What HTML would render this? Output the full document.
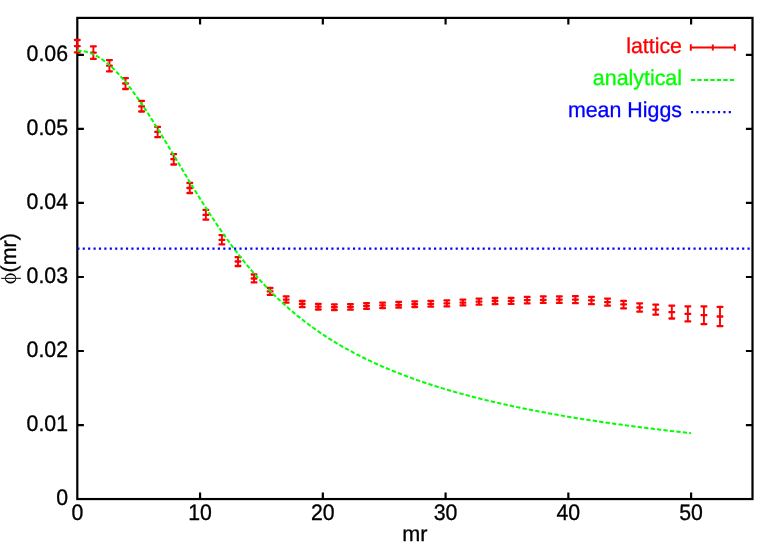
<!DOCTYPE html>
<html><head><meta charset="utf-8"><title>plot</title>
<style>
html,body{margin:0;padding:0;background:#fff;}
body{width:778px;height:545px;overflow:hidden;}
svg{display:block;will-change:transform;}
text{text-rendering:geometricPrecision;font-family:"Liberation Sans",sans-serif;font-size:21.60px;stroke-width:0.30px;}
</style></head><body>
<svg width="778" height="545" viewBox="0 0 778 545">
<rect width="778" height="545" fill="#fff"/>
<path d="M77.30 425.03 h6.6 M752.50 425.03 h-6.6 M77.30 351.00 h6.6 M752.50 351.00 h-6.6 M77.30 276.98 h6.6 M752.50 276.98 h-6.6 M77.30 202.96 h6.6 M752.50 202.96 h-6.6 M77.30 128.93 h6.6 M752.50 128.93 h-6.6 M77.30 54.91 h6.6 M752.50 54.91 h-6.6 M200.06 499.05 v-6.6 M200.06 17.90 v6.6 M322.83 499.05 v-6.6 M322.83 17.90 v6.6 M445.59 499.05 v-6.6 M445.59 17.90 v6.6 M568.35 499.05 v-6.6 M568.35 17.90 v6.6 M691.12 499.05 v-6.6 M691.12 17.90 v6.6" fill="none" stroke="#000" stroke-width="2.20"/>
<rect x="77.30" y="17.90" width="675.20" height="481.15" fill="none" stroke="#000" stroke-width="2.20"/>
<path d="M77.30 40.00 V52.30 M93.37 46.40 V58.90 M109.44 60.10 V71.30 M125.50 78.10 V89.00 M141.57 100.90 V111.50 M157.64 126.80 V137.10 M173.71 154.20 V164.50 M189.77 182.80 V193.00 M205.84 209.90 V219.70 M221.91 235.10 V244.30 M237.98 257.10 V266.00 M254.04 274.50 V282.40 M270.11 288.00 V294.80 M286.18 296.40 V302.60 M302.25 301.00 V307.10 M318.31 303.80 V309.50 M334.38 304.30 V310.00 M350.45 304.10 V309.60 M366.52 303.10 V308.80 M382.58 302.70 V308.20 M398.65 301.90 V307.50 M414.72 301.30 V307.00 M430.79 300.80 V306.60 M446.85 300.30 V306.30 M462.92 299.60 V305.40 M478.99 298.60 V304.60 M495.06 298.00 V304.10 M511.12 297.80 V303.80 M527.19 296.90 V303.30 M543.26 296.40 V302.90 M559.33 296.30 V302.90 M575.39 296.10 V303.10 M591.46 296.80 V304.10 M607.53 298.60 V305.60 M623.60 300.80 V308.30 M639.66 303.30 V311.60 M655.73 304.60 V314.60 M671.80 305.60 V318.50 M687.87 306.40 V321.40 M703.93 306.40 V324.10 M720.00 306.80 V326.10 M690.8 44.2 v6.6 M734.8 44.2 v6.6 M712.8 44.6 v5.8 M690.8 47.5 H734.8" fill="none" stroke="#ff0000" stroke-width="1.90" stroke-linecap="butt"/>
<path d="M74.65 38.85 h5.30 a0.80 0.80 0 0 1 0.80 0.80 v0.70 a0.80 0.80 0 0 1 -0.80 0.80 h-5.30 a0.80 0.80 0 0 1 -0.80 -0.80 v-0.70 a0.80 0.80 0 0 1 0.80 -0.80 Z M74.65 51.15 h5.30 a0.80 0.80 0 0 1 0.80 0.80 v0.70 a0.80 0.80 0 0 1 -0.80 0.80 h-5.30 a0.80 0.80 0 0 1 -0.80 -0.80 v-0.70 a0.80 0.80 0 0 1 0.80 -0.80 Z M74.65 45.05 h5.30 a0.80 0.80 0 0 1 0.80 0.80 v0.70 a0.80 0.80 0 0 1 -0.80 0.80 h-5.30 a0.80 0.80 0 0 1 -0.80 -0.80 v-0.70 a0.80 0.80 0 0 1 0.80 -0.80 Z M90.72 45.25 h5.30 a0.80 0.80 0 0 1 0.80 0.80 v0.70 a0.80 0.80 0 0 1 -0.80 0.80 h-5.30 a0.80 0.80 0 0 1 -0.80 -0.80 v-0.70 a0.80 0.80 0 0 1 0.80 -0.80 Z M90.72 57.75 h5.30 a0.80 0.80 0 0 1 0.80 0.80 v0.70 a0.80 0.80 0 0 1 -0.80 0.80 h-5.30 a0.80 0.80 0 0 1 -0.80 -0.80 v-0.70 a0.80 0.80 0 0 1 0.80 -0.80 Z M90.72 51.45 h5.30 a0.80 0.80 0 0 1 0.80 0.80 v0.70 a0.80 0.80 0 0 1 -0.80 0.80 h-5.30 a0.80 0.80 0 0 1 -0.80 -0.80 v-0.70 a0.80 0.80 0 0 1 0.80 -0.80 Z M106.78 58.95 h5.30 a0.80 0.80 0 0 1 0.80 0.80 v0.70 a0.80 0.80 0 0 1 -0.80 0.80 h-5.30 a0.80 0.80 0 0 1 -0.80 -0.80 v-0.70 a0.80 0.80 0 0 1 0.80 -0.80 Z M106.78 70.15 h5.30 a0.80 0.80 0 0 1 0.80 0.80 v0.70 a0.80 0.80 0 0 1 -0.80 0.80 h-5.30 a0.80 0.80 0 0 1 -0.80 -0.80 v-0.70 a0.80 0.80 0 0 1 0.80 -0.80 Z M106.78 64.45 h5.30 a0.80 0.80 0 0 1 0.80 0.80 v0.70 a0.80 0.80 0 0 1 -0.80 0.80 h-5.30 a0.80 0.80 0 0 1 -0.80 -0.80 v-0.70 a0.80 0.80 0 0 1 0.80 -0.80 Z M122.85 76.95 h5.30 a0.80 0.80 0 0 1 0.80 0.80 v0.70 a0.80 0.80 0 0 1 -0.80 0.80 h-5.30 a0.80 0.80 0 0 1 -0.80 -0.80 v-0.70 a0.80 0.80 0 0 1 0.80 -0.80 Z M122.85 87.85 h5.30 a0.80 0.80 0 0 1 0.80 0.80 v0.70 a0.80 0.80 0 0 1 -0.80 0.80 h-5.30 a0.80 0.80 0 0 1 -0.80 -0.80 v-0.70 a0.80 0.80 0 0 1 0.80 -0.80 Z M122.85 82.35 h5.30 a0.80 0.80 0 0 1 0.80 0.80 v0.70 a0.80 0.80 0 0 1 -0.80 0.80 h-5.30 a0.80 0.80 0 0 1 -0.80 -0.80 v-0.70 a0.80 0.80 0 0 1 0.80 -0.80 Z M138.92 99.75 h5.30 a0.80 0.80 0 0 1 0.80 0.80 v0.70 a0.80 0.80 0 0 1 -0.80 0.80 h-5.30 a0.80 0.80 0 0 1 -0.80 -0.80 v-0.70 a0.80 0.80 0 0 1 0.80 -0.80 Z M138.92 110.35 h5.30 a0.80 0.80 0 0 1 0.80 0.80 v0.70 a0.80 0.80 0 0 1 -0.80 0.80 h-5.30 a0.80 0.80 0 0 1 -0.80 -0.80 v-0.70 a0.80 0.80 0 0 1 0.80 -0.80 Z M138.92 105.15 h5.30 a0.80 0.80 0 0 1 0.80 0.80 v0.70 a0.80 0.80 0 0 1 -0.80 0.80 h-5.30 a0.80 0.80 0 0 1 -0.80 -0.80 v-0.70 a0.80 0.80 0 0 1 0.80 -0.80 Z M154.99 125.65 h5.30 a0.80 0.80 0 0 1 0.80 0.80 v0.70 a0.80 0.80 0 0 1 -0.80 0.80 h-5.30 a0.80 0.80 0 0 1 -0.80 -0.80 v-0.70 a0.80 0.80 0 0 1 0.80 -0.80 Z M154.99 135.95 h5.30 a0.80 0.80 0 0 1 0.80 0.80 v0.70 a0.80 0.80 0 0 1 -0.80 0.80 h-5.30 a0.80 0.80 0 0 1 -0.80 -0.80 v-0.70 a0.80 0.80 0 0 1 0.80 -0.80 Z M154.99 130.65 h5.30 a0.80 0.80 0 0 1 0.80 0.80 v0.70 a0.80 0.80 0 0 1 -0.80 0.80 h-5.30 a0.80 0.80 0 0 1 -0.80 -0.80 v-0.70 a0.80 0.80 0 0 1 0.80 -0.80 Z M171.06 153.05 h5.30 a0.80 0.80 0 0 1 0.80 0.80 v0.70 a0.80 0.80 0 0 1 -0.80 0.80 h-5.30 a0.80 0.80 0 0 1 -0.80 -0.80 v-0.70 a0.80 0.80 0 0 1 0.80 -0.80 Z M171.06 163.35 h5.30 a0.80 0.80 0 0 1 0.80 0.80 v0.70 a0.80 0.80 0 0 1 -0.80 0.80 h-5.30 a0.80 0.80 0 0 1 -0.80 -0.80 v-0.70 a0.80 0.80 0 0 1 0.80 -0.80 Z M171.06 158.05 h5.30 a0.80 0.80 0 0 1 0.80 0.80 v0.70 a0.80 0.80 0 0 1 -0.80 0.80 h-5.30 a0.80 0.80 0 0 1 -0.80 -0.80 v-0.70 a0.80 0.80 0 0 1 0.80 -0.80 Z M187.12 181.65 h5.30 a0.80 0.80 0 0 1 0.80 0.80 v0.70 a0.80 0.80 0 0 1 -0.80 0.80 h-5.30 a0.80 0.80 0 0 1 -0.80 -0.80 v-0.70 a0.80 0.80 0 0 1 0.80 -0.80 Z M187.12 191.85 h5.30 a0.80 0.80 0 0 1 0.80 0.80 v0.70 a0.80 0.80 0 0 1 -0.80 0.80 h-5.30 a0.80 0.80 0 0 1 -0.80 -0.80 v-0.70 a0.80 0.80 0 0 1 0.80 -0.80 Z M187.12 186.85 h5.30 a0.80 0.80 0 0 1 0.80 0.80 v0.70 a0.80 0.80 0 0 1 -0.80 0.80 h-5.30 a0.80 0.80 0 0 1 -0.80 -0.80 v-0.70 a0.80 0.80 0 0 1 0.80 -0.80 Z M203.19 208.75 h5.30 a0.80 0.80 0 0 1 0.80 0.80 v0.70 a0.80 0.80 0 0 1 -0.80 0.80 h-5.30 a0.80 0.80 0 0 1 -0.80 -0.80 v-0.70 a0.80 0.80 0 0 1 0.80 -0.80 Z M203.19 218.55 h5.30 a0.80 0.80 0 0 1 0.80 0.80 v0.70 a0.80 0.80 0 0 1 -0.80 0.80 h-5.30 a0.80 0.80 0 0 1 -0.80 -0.80 v-0.70 a0.80 0.80 0 0 1 0.80 -0.80 Z M203.19 213.65 h5.30 a0.80 0.80 0 0 1 0.80 0.80 v0.70 a0.80 0.80 0 0 1 -0.80 0.80 h-5.30 a0.80 0.80 0 0 1 -0.80 -0.80 v-0.70 a0.80 0.80 0 0 1 0.80 -0.80 Z M219.26 233.95 h5.30 a0.80 0.80 0 0 1 0.80 0.80 v0.70 a0.80 0.80 0 0 1 -0.80 0.80 h-5.30 a0.80 0.80 0 0 1 -0.80 -0.80 v-0.70 a0.80 0.80 0 0 1 0.80 -0.80 Z M219.26 243.15 h5.30 a0.80 0.80 0 0 1 0.80 0.80 v0.70 a0.80 0.80 0 0 1 -0.80 0.80 h-5.30 a0.80 0.80 0 0 1 -0.80 -0.80 v-0.70 a0.80 0.80 0 0 1 0.80 -0.80 Z M219.26 238.65 h5.30 a0.80 0.80 0 0 1 0.80 0.80 v0.70 a0.80 0.80 0 0 1 -0.80 0.80 h-5.30 a0.80 0.80 0 0 1 -0.80 -0.80 v-0.70 a0.80 0.80 0 0 1 0.80 -0.80 Z M235.33 255.95 h5.30 a0.80 0.80 0 0 1 0.80 0.80 v0.70 a0.80 0.80 0 0 1 -0.80 0.80 h-5.30 a0.80 0.80 0 0 1 -0.80 -0.80 v-0.70 a0.80 0.80 0 0 1 0.80 -0.80 Z M235.33 264.85 h5.30 a0.80 0.80 0 0 1 0.80 0.80 v0.70 a0.80 0.80 0 0 1 -0.80 0.80 h-5.30 a0.80 0.80 0 0 1 -0.80 -0.80 v-0.70 a0.80 0.80 0 0 1 0.80 -0.80 Z M235.33 260.35 h5.30 a0.80 0.80 0 0 1 0.80 0.80 v0.70 a0.80 0.80 0 0 1 -0.80 0.80 h-5.30 a0.80 0.80 0 0 1 -0.80 -0.80 v-0.70 a0.80 0.80 0 0 1 0.80 -0.80 Z M251.39 273.35 h5.30 a0.80 0.80 0 0 1 0.80 0.80 v0.70 a0.80 0.80 0 0 1 -0.80 0.80 h-5.30 a0.80 0.80 0 0 1 -0.80 -0.80 v-0.70 a0.80 0.80 0 0 1 0.80 -0.80 Z M251.39 281.25 h5.30 a0.80 0.80 0 0 1 0.80 0.80 v0.70 a0.80 0.80 0 0 1 -0.80 0.80 h-5.30 a0.80 0.80 0 0 1 -0.80 -0.80 v-0.70 a0.80 0.80 0 0 1 0.80 -0.80 Z M251.39 277.35 h5.30 a0.80 0.80 0 0 1 0.80 0.80 v0.70 a0.80 0.80 0 0 1 -0.80 0.80 h-5.30 a0.80 0.80 0 0 1 -0.80 -0.80 v-0.70 a0.80 0.80 0 0 1 0.80 -0.80 Z M267.46 286.85 h5.30 a0.80 0.80 0 0 1 0.80 0.80 v0.70 a0.80 0.80 0 0 1 -0.80 0.80 h-5.30 a0.80 0.80 0 0 1 -0.80 -0.80 v-0.70 a0.80 0.80 0 0 1 0.80 -0.80 Z M267.46 293.65 h5.30 a0.80 0.80 0 0 1 0.80 0.80 v0.70 a0.80 0.80 0 0 1 -0.80 0.80 h-5.30 a0.80 0.80 0 0 1 -0.80 -0.80 v-0.70 a0.80 0.80 0 0 1 0.80 -0.80 Z M267.46 290.25 h5.30 a0.80 0.80 0 0 1 0.80 0.80 v0.70 a0.80 0.80 0 0 1 -0.80 0.80 h-5.30 a0.80 0.80 0 0 1 -0.80 -0.80 v-0.70 a0.80 0.80 0 0 1 0.80 -0.80 Z M283.53 295.25 h5.30 a0.80 0.80 0 0 1 0.80 0.80 v0.70 a0.80 0.80 0 0 1 -0.80 0.80 h-5.30 a0.80 0.80 0 0 1 -0.80 -0.80 v-0.70 a0.80 0.80 0 0 1 0.80 -0.80 Z M283.53 301.45 h5.30 a0.80 0.80 0 0 1 0.80 0.80 v0.70 a0.80 0.80 0 0 1 -0.80 0.80 h-5.30 a0.80 0.80 0 0 1 -0.80 -0.80 v-0.70 a0.80 0.80 0 0 1 0.80 -0.80 Z M283.53 298.45 h5.30 a0.80 0.80 0 0 1 0.80 0.80 v0.70 a0.80 0.80 0 0 1 -0.80 0.80 h-5.30 a0.80 0.80 0 0 1 -0.80 -0.80 v-0.70 a0.80 0.80 0 0 1 0.80 -0.80 Z M299.60 299.85 h5.30 a0.80 0.80 0 0 1 0.80 0.80 v0.70 a0.80 0.80 0 0 1 -0.80 0.80 h-5.30 a0.80 0.80 0 0 1 -0.80 -0.80 v-0.70 a0.80 0.80 0 0 1 0.80 -0.80 Z M299.60 305.95 h5.30 a0.80 0.80 0 0 1 0.80 0.80 v0.70 a0.80 0.80 0 0 1 -0.80 0.80 h-5.30 a0.80 0.80 0 0 1 -0.80 -0.80 v-0.70 a0.80 0.80 0 0 1 0.80 -0.80 Z M299.60 302.85 h5.30 a0.80 0.80 0 0 1 0.80 0.80 v0.70 a0.80 0.80 0 0 1 -0.80 0.80 h-5.30 a0.80 0.80 0 0 1 -0.80 -0.80 v-0.70 a0.80 0.80 0 0 1 0.80 -0.80 Z M315.66 302.65 h5.30 a0.80 0.80 0 0 1 0.80 0.80 v0.70 a0.80 0.80 0 0 1 -0.80 0.80 h-5.30 a0.80 0.80 0 0 1 -0.80 -0.80 v-0.70 a0.80 0.80 0 0 1 0.80 -0.80 Z M315.66 308.35 h5.30 a0.80 0.80 0 0 1 0.80 0.80 v0.70 a0.80 0.80 0 0 1 -0.80 0.80 h-5.30 a0.80 0.80 0 0 1 -0.80 -0.80 v-0.70 a0.80 0.80 0 0 1 0.80 -0.80 Z M315.66 305.45 h5.30 a0.80 0.80 0 0 1 0.80 0.80 v0.70 a0.80 0.80 0 0 1 -0.80 0.80 h-5.30 a0.80 0.80 0 0 1 -0.80 -0.80 v-0.70 a0.80 0.80 0 0 1 0.80 -0.80 Z M331.73 303.15 h5.30 a0.80 0.80 0 0 1 0.80 0.80 v0.70 a0.80 0.80 0 0 1 -0.80 0.80 h-5.30 a0.80 0.80 0 0 1 -0.80 -0.80 v-0.70 a0.80 0.80 0 0 1 0.80 -0.80 Z M331.73 308.85 h5.30 a0.80 0.80 0 0 1 0.80 0.80 v0.70 a0.80 0.80 0 0 1 -0.80 0.80 h-5.30 a0.80 0.80 0 0 1 -0.80 -0.80 v-0.70 a0.80 0.80 0 0 1 0.80 -0.80 Z M331.73 305.95 h5.30 a0.80 0.80 0 0 1 0.80 0.80 v0.70 a0.80 0.80 0 0 1 -0.80 0.80 h-5.30 a0.80 0.80 0 0 1 -0.80 -0.80 v-0.70 a0.80 0.80 0 0 1 0.80 -0.80 Z M347.80 302.95 h5.30 a0.80 0.80 0 0 1 0.80 0.80 v0.70 a0.80 0.80 0 0 1 -0.80 0.80 h-5.30 a0.80 0.80 0 0 1 -0.80 -0.80 v-0.70 a0.80 0.80 0 0 1 0.80 -0.80 Z M347.80 308.45 h5.30 a0.80 0.80 0 0 1 0.80 0.80 v0.70 a0.80 0.80 0 0 1 -0.80 0.80 h-5.30 a0.80 0.80 0 0 1 -0.80 -0.80 v-0.70 a0.80 0.80 0 0 1 0.80 -0.80 Z M347.80 305.65 h5.30 a0.80 0.80 0 0 1 0.80 0.80 v0.70 a0.80 0.80 0 0 1 -0.80 0.80 h-5.30 a0.80 0.80 0 0 1 -0.80 -0.80 v-0.70 a0.80 0.80 0 0 1 0.80 -0.80 Z M363.87 301.95 h5.30 a0.80 0.80 0 0 1 0.80 0.80 v0.70 a0.80 0.80 0 0 1 -0.80 0.80 h-5.30 a0.80 0.80 0 0 1 -0.80 -0.80 v-0.70 a0.80 0.80 0 0 1 0.80 -0.80 Z M363.87 307.65 h5.30 a0.80 0.80 0 0 1 0.80 0.80 v0.70 a0.80 0.80 0 0 1 -0.80 0.80 h-5.30 a0.80 0.80 0 0 1 -0.80 -0.80 v-0.70 a0.80 0.80 0 0 1 0.80 -0.80 Z M363.87 304.85 h5.30 a0.80 0.80 0 0 1 0.80 0.80 v0.70 a0.80 0.80 0 0 1 -0.80 0.80 h-5.30 a0.80 0.80 0 0 1 -0.80 -0.80 v-0.70 a0.80 0.80 0 0 1 0.80 -0.80 Z M379.93 301.55 h5.30 a0.80 0.80 0 0 1 0.80 0.80 v0.70 a0.80 0.80 0 0 1 -0.80 0.80 h-5.30 a0.80 0.80 0 0 1 -0.80 -0.80 v-0.70 a0.80 0.80 0 0 1 0.80 -0.80 Z M379.93 307.05 h5.30 a0.80 0.80 0 0 1 0.80 0.80 v0.70 a0.80 0.80 0 0 1 -0.80 0.80 h-5.30 a0.80 0.80 0 0 1 -0.80 -0.80 v-0.70 a0.80 0.80 0 0 1 0.80 -0.80 Z M379.93 304.30 h5.30 a0.80 0.80 0 0 1 0.80 0.80 v0.70 a0.80 0.80 0 0 1 -0.80 0.80 h-5.30 a0.80 0.80 0 0 1 -0.80 -0.80 v-0.70 a0.80 0.80 0 0 1 0.80 -0.80 Z M396.00 300.75 h5.30 a0.80 0.80 0 0 1 0.80 0.80 v0.70 a0.80 0.80 0 0 1 -0.80 0.80 h-5.30 a0.80 0.80 0 0 1 -0.80 -0.80 v-0.70 a0.80 0.80 0 0 1 0.80 -0.80 Z M396.00 306.35 h5.30 a0.80 0.80 0 0 1 0.80 0.80 v0.70 a0.80 0.80 0 0 1 -0.80 0.80 h-5.30 a0.80 0.80 0 0 1 -0.80 -0.80 v-0.70 a0.80 0.80 0 0 1 0.80 -0.80 Z M396.00 303.65 h5.30 a0.80 0.80 0 0 1 0.80 0.80 v0.70 a0.80 0.80 0 0 1 -0.80 0.80 h-5.30 a0.80 0.80 0 0 1 -0.80 -0.80 v-0.70 a0.80 0.80 0 0 1 0.80 -0.80 Z M412.07 300.15 h5.30 a0.80 0.80 0 0 1 0.80 0.80 v0.70 a0.80 0.80 0 0 1 -0.80 0.80 h-5.30 a0.80 0.80 0 0 1 -0.80 -0.80 v-0.70 a0.80 0.80 0 0 1 0.80 -0.80 Z M412.07 305.85 h5.30 a0.80 0.80 0 0 1 0.80 0.80 v0.70 a0.80 0.80 0 0 1 -0.80 0.80 h-5.30 a0.80 0.80 0 0 1 -0.80 -0.80 v-0.70 a0.80 0.80 0 0 1 0.80 -0.80 Z M412.07 302.95 h5.30 a0.80 0.80 0 0 1 0.80 0.80 v0.70 a0.80 0.80 0 0 1 -0.80 0.80 h-5.30 a0.80 0.80 0 0 1 -0.80 -0.80 v-0.70 a0.80 0.80 0 0 1 0.80 -0.80 Z M428.14 299.65 h5.30 a0.80 0.80 0 0 1 0.80 0.80 v0.70 a0.80 0.80 0 0 1 -0.80 0.80 h-5.30 a0.80 0.80 0 0 1 -0.80 -0.80 v-0.70 a0.80 0.80 0 0 1 0.80 -0.80 Z M428.14 305.45 h5.30 a0.80 0.80 0 0 1 0.80 0.80 v0.70 a0.80 0.80 0 0 1 -0.80 0.80 h-5.30 a0.80 0.80 0 0 1 -0.80 -0.80 v-0.70 a0.80 0.80 0 0 1 0.80 -0.80 Z M428.14 302.65 h5.30 a0.80 0.80 0 0 1 0.80 0.80 v0.70 a0.80 0.80 0 0 1 -0.80 0.80 h-5.30 a0.80 0.80 0 0 1 -0.80 -0.80 v-0.70 a0.80 0.80 0 0 1 0.80 -0.80 Z M444.20 299.15 h5.30 a0.80 0.80 0 0 1 0.80 0.80 v0.70 a0.80 0.80 0 0 1 -0.80 0.80 h-5.30 a0.80 0.80 0 0 1 -0.80 -0.80 v-0.70 a0.80 0.80 0 0 1 0.80 -0.80 Z M444.20 305.15 h5.30 a0.80 0.80 0 0 1 0.80 0.80 v0.70 a0.80 0.80 0 0 1 -0.80 0.80 h-5.30 a0.80 0.80 0 0 1 -0.80 -0.80 v-0.70 a0.80 0.80 0 0 1 0.80 -0.80 Z M444.20 302.15 h5.30 a0.80 0.80 0 0 1 0.80 0.80 v0.70 a0.80 0.80 0 0 1 -0.80 0.80 h-5.30 a0.80 0.80 0 0 1 -0.80 -0.80 v-0.70 a0.80 0.80 0 0 1 0.80 -0.80 Z M460.27 298.45 h5.30 a0.80 0.80 0 0 1 0.80 0.80 v0.70 a0.80 0.80 0 0 1 -0.80 0.80 h-5.30 a0.80 0.80 0 0 1 -0.80 -0.80 v-0.70 a0.80 0.80 0 0 1 0.80 -0.80 Z M460.27 304.25 h5.30 a0.80 0.80 0 0 1 0.80 0.80 v0.70 a0.80 0.80 0 0 1 -0.80 0.80 h-5.30 a0.80 0.80 0 0 1 -0.80 -0.80 v-0.70 a0.80 0.80 0 0 1 0.80 -0.80 Z M460.27 301.45 h5.30 a0.80 0.80 0 0 1 0.80 0.80 v0.70 a0.80 0.80 0 0 1 -0.80 0.80 h-5.30 a0.80 0.80 0 0 1 -0.80 -0.80 v-0.70 a0.80 0.80 0 0 1 0.80 -0.80 Z M476.34 297.45 h5.30 a0.80 0.80 0 0 1 0.80 0.80 v0.70 a0.80 0.80 0 0 1 -0.80 0.80 h-5.30 a0.80 0.80 0 0 1 -0.80 -0.80 v-0.70 a0.80 0.80 0 0 1 0.80 -0.80 Z M476.34 303.45 h5.30 a0.80 0.80 0 0 1 0.80 0.80 v0.70 a0.80 0.80 0 0 1 -0.80 0.80 h-5.30 a0.80 0.80 0 0 1 -0.80 -0.80 v-0.70 a0.80 0.80 0 0 1 0.80 -0.80 Z M476.34 300.45 h5.30 a0.80 0.80 0 0 1 0.80 0.80 v0.70 a0.80 0.80 0 0 1 -0.80 0.80 h-5.30 a0.80 0.80 0 0 1 -0.80 -0.80 v-0.70 a0.80 0.80 0 0 1 0.80 -0.80 Z M492.41 296.85 h5.30 a0.80 0.80 0 0 1 0.80 0.80 v0.70 a0.80 0.80 0 0 1 -0.80 0.80 h-5.30 a0.80 0.80 0 0 1 -0.80 -0.80 v-0.70 a0.80 0.80 0 0 1 0.80 -0.80 Z M492.41 302.95 h5.30 a0.80 0.80 0 0 1 0.80 0.80 v0.70 a0.80 0.80 0 0 1 -0.80 0.80 h-5.30 a0.80 0.80 0 0 1 -0.80 -0.80 v-0.70 a0.80 0.80 0 0 1 0.80 -0.80 Z M492.41 299.85 h5.30 a0.80 0.80 0 0 1 0.80 0.80 v0.70 a0.80 0.80 0 0 1 -0.80 0.80 h-5.30 a0.80 0.80 0 0 1 -0.80 -0.80 v-0.70 a0.80 0.80 0 0 1 0.80 -0.80 Z M508.47 296.65 h5.30 a0.80 0.80 0 0 1 0.80 0.80 v0.70 a0.80 0.80 0 0 1 -0.80 0.80 h-5.30 a0.80 0.80 0 0 1 -0.80 -0.80 v-0.70 a0.80 0.80 0 0 1 0.80 -0.80 Z M508.47 302.65 h5.30 a0.80 0.80 0 0 1 0.80 0.80 v0.70 a0.80 0.80 0 0 1 -0.80 0.80 h-5.30 a0.80 0.80 0 0 1 -0.80 -0.80 v-0.70 a0.80 0.80 0 0 1 0.80 -0.80 Z M508.47 299.65 h5.30 a0.80 0.80 0 0 1 0.80 0.80 v0.70 a0.80 0.80 0 0 1 -0.80 0.80 h-5.30 a0.80 0.80 0 0 1 -0.80 -0.80 v-0.70 a0.80 0.80 0 0 1 0.80 -0.80 Z M524.54 295.75 h5.30 a0.80 0.80 0 0 1 0.80 0.80 v0.70 a0.80 0.80 0 0 1 -0.80 0.80 h-5.30 a0.80 0.80 0 0 1 -0.80 -0.80 v-0.70 a0.80 0.80 0 0 1 0.80 -0.80 Z M524.54 302.15 h5.30 a0.80 0.80 0 0 1 0.80 0.80 v0.70 a0.80 0.80 0 0 1 -0.80 0.80 h-5.30 a0.80 0.80 0 0 1 -0.80 -0.80 v-0.70 a0.80 0.80 0 0 1 0.80 -0.80 Z M524.54 298.95 h5.30 a0.80 0.80 0 0 1 0.80 0.80 v0.70 a0.80 0.80 0 0 1 -0.80 0.80 h-5.30 a0.80 0.80 0 0 1 -0.80 -0.80 v-0.70 a0.80 0.80 0 0 1 0.80 -0.80 Z M540.61 295.25 h5.30 a0.80 0.80 0 0 1 0.80 0.80 v0.70 a0.80 0.80 0 0 1 -0.80 0.80 h-5.30 a0.80 0.80 0 0 1 -0.80 -0.80 v-0.70 a0.80 0.80 0 0 1 0.80 -0.80 Z M540.61 301.75 h5.30 a0.80 0.80 0 0 1 0.80 0.80 v0.70 a0.80 0.80 0 0 1 -0.80 0.80 h-5.30 a0.80 0.80 0 0 1 -0.80 -0.80 v-0.70 a0.80 0.80 0 0 1 0.80 -0.80 Z M540.61 298.65 h5.30 a0.80 0.80 0 0 1 0.80 0.80 v0.70 a0.80 0.80 0 0 1 -0.80 0.80 h-5.30 a0.80 0.80 0 0 1 -0.80 -0.80 v-0.70 a0.80 0.80 0 0 1 0.80 -0.80 Z M556.67 295.15 h5.30 a0.80 0.80 0 0 1 0.80 0.80 v0.70 a0.80 0.80 0 0 1 -0.80 0.80 h-5.30 a0.80 0.80 0 0 1 -0.80 -0.80 v-0.70 a0.80 0.80 0 0 1 0.80 -0.80 Z M556.67 301.75 h5.30 a0.80 0.80 0 0 1 0.80 0.80 v0.70 a0.80 0.80 0 0 1 -0.80 0.80 h-5.30 a0.80 0.80 0 0 1 -0.80 -0.80 v-0.70 a0.80 0.80 0 0 1 0.80 -0.80 Z M556.67 298.45 h5.30 a0.80 0.80 0 0 1 0.80 0.80 v0.70 a0.80 0.80 0 0 1 -0.80 0.80 h-5.30 a0.80 0.80 0 0 1 -0.80 -0.80 v-0.70 a0.80 0.80 0 0 1 0.80 -0.80 Z M572.74 294.95 h5.30 a0.80 0.80 0 0 1 0.80 0.80 v0.70 a0.80 0.80 0 0 1 -0.80 0.80 h-5.30 a0.80 0.80 0 0 1 -0.80 -0.80 v-0.70 a0.80 0.80 0 0 1 0.80 -0.80 Z M572.74 301.95 h5.30 a0.80 0.80 0 0 1 0.80 0.80 v0.70 a0.80 0.80 0 0 1 -0.80 0.80 h-5.30 a0.80 0.80 0 0 1 -0.80 -0.80 v-0.70 a0.80 0.80 0 0 1 0.80 -0.80 Z M572.74 298.45 h5.30 a0.80 0.80 0 0 1 0.80 0.80 v0.70 a0.80 0.80 0 0 1 -0.80 0.80 h-5.30 a0.80 0.80 0 0 1 -0.80 -0.80 v-0.70 a0.80 0.80 0 0 1 0.80 -0.80 Z M588.81 295.65 h5.30 a0.80 0.80 0 0 1 0.80 0.80 v0.70 a0.80 0.80 0 0 1 -0.80 0.80 h-5.30 a0.80 0.80 0 0 1 -0.80 -0.80 v-0.70 a0.80 0.80 0 0 1 0.80 -0.80 Z M588.81 302.95 h5.30 a0.80 0.80 0 0 1 0.80 0.80 v0.70 a0.80 0.80 0 0 1 -0.80 0.80 h-5.30 a0.80 0.80 0 0 1 -0.80 -0.80 v-0.70 a0.80 0.80 0 0 1 0.80 -0.80 Z M588.81 299.25 h5.30 a0.80 0.80 0 0 1 0.80 0.80 v0.70 a0.80 0.80 0 0 1 -0.80 0.80 h-5.30 a0.80 0.80 0 0 1 -0.80 -0.80 v-0.70 a0.80 0.80 0 0 1 0.80 -0.80 Z M604.88 297.45 h5.30 a0.80 0.80 0 0 1 0.80 0.80 v0.70 a0.80 0.80 0 0 1 -0.80 0.80 h-5.30 a0.80 0.80 0 0 1 -0.80 -0.80 v-0.70 a0.80 0.80 0 0 1 0.80 -0.80 Z M604.88 304.45 h5.30 a0.80 0.80 0 0 1 0.80 0.80 v0.70 a0.80 0.80 0 0 1 -0.80 0.80 h-5.30 a0.80 0.80 0 0 1 -0.80 -0.80 v-0.70 a0.80 0.80 0 0 1 0.80 -0.80 Z M604.88 300.95 h5.30 a0.80 0.80 0 0 1 0.80 0.80 v0.70 a0.80 0.80 0 0 1 -0.80 0.80 h-5.30 a0.80 0.80 0 0 1 -0.80 -0.80 v-0.70 a0.80 0.80 0 0 1 0.80 -0.80 Z M620.94 299.65 h5.30 a0.80 0.80 0 0 1 0.80 0.80 v0.70 a0.80 0.80 0 0 1 -0.80 0.80 h-5.30 a0.80 0.80 0 0 1 -0.80 -0.80 v-0.70 a0.80 0.80 0 0 1 0.80 -0.80 Z M620.94 307.15 h5.30 a0.80 0.80 0 0 1 0.80 0.80 v0.70 a0.80 0.80 0 0 1 -0.80 0.80 h-5.30 a0.80 0.80 0 0 1 -0.80 -0.80 v-0.70 a0.80 0.80 0 0 1 0.80 -0.80 Z M620.94 303.25 h5.30 a0.80 0.80 0 0 1 0.80 0.80 v0.70 a0.80 0.80 0 0 1 -0.80 0.80 h-5.30 a0.80 0.80 0 0 1 -0.80 -0.80 v-0.70 a0.80 0.80 0 0 1 0.80 -0.80 Z M637.01 302.15 h5.30 a0.80 0.80 0 0 1 0.80 0.80 v0.70 a0.80 0.80 0 0 1 -0.80 0.80 h-5.30 a0.80 0.80 0 0 1 -0.80 -0.80 v-0.70 a0.80 0.80 0 0 1 0.80 -0.80 Z M637.01 310.45 h5.30 a0.80 0.80 0 0 1 0.80 0.80 v0.70 a0.80 0.80 0 0 1 -0.80 0.80 h-5.30 a0.80 0.80 0 0 1 -0.80 -0.80 v-0.70 a0.80 0.80 0 0 1 0.80 -0.80 Z M637.01 306.35 h5.30 a0.80 0.80 0 0 1 0.80 0.80 v0.70 a0.80 0.80 0 0 1 -0.80 0.80 h-5.30 a0.80 0.80 0 0 1 -0.80 -0.80 v-0.70 a0.80 0.80 0 0 1 0.80 -0.80 Z M653.08 303.45 h5.30 a0.80 0.80 0 0 1 0.80 0.80 v0.70 a0.80 0.80 0 0 1 -0.80 0.80 h-5.30 a0.80 0.80 0 0 1 -0.80 -0.80 v-0.70 a0.80 0.80 0 0 1 0.80 -0.80 Z M653.08 313.45 h5.30 a0.80 0.80 0 0 1 0.80 0.80 v0.70 a0.80 0.80 0 0 1 -0.80 0.80 h-5.30 a0.80 0.80 0 0 1 -0.80 -0.80 v-0.70 a0.80 0.80 0 0 1 0.80 -0.80 Z M653.08 308.45 h5.30 a0.80 0.80 0 0 1 0.80 0.80 v0.70 a0.80 0.80 0 0 1 -0.80 0.80 h-5.30 a0.80 0.80 0 0 1 -0.80 -0.80 v-0.70 a0.80 0.80 0 0 1 0.80 -0.80 Z M669.15 304.45 h5.30 a0.80 0.80 0 0 1 0.80 0.80 v0.70 a0.80 0.80 0 0 1 -0.80 0.80 h-5.30 a0.80 0.80 0 0 1 -0.80 -0.80 v-0.70 a0.80 0.80 0 0 1 0.80 -0.80 Z M669.15 317.35 h5.30 a0.80 0.80 0 0 1 0.80 0.80 v0.70 a0.80 0.80 0 0 1 -0.80 0.80 h-5.30 a0.80 0.80 0 0 1 -0.80 -0.80 v-0.70 a0.80 0.80 0 0 1 0.80 -0.80 Z M669.15 310.95 h5.30 a0.80 0.80 0 0 1 0.80 0.80 v0.70 a0.80 0.80 0 0 1 -0.80 0.80 h-5.30 a0.80 0.80 0 0 1 -0.80 -0.80 v-0.70 a0.80 0.80 0 0 1 0.80 -0.80 Z M685.21 305.25 h5.30 a0.80 0.80 0 0 1 0.80 0.80 v0.70 a0.80 0.80 0 0 1 -0.80 0.80 h-5.30 a0.80 0.80 0 0 1 -0.80 -0.80 v-0.70 a0.80 0.80 0 0 1 0.80 -0.80 Z M685.21 320.25 h5.30 a0.80 0.80 0 0 1 0.80 0.80 v0.70 a0.80 0.80 0 0 1 -0.80 0.80 h-5.30 a0.80 0.80 0 0 1 -0.80 -0.80 v-0.70 a0.80 0.80 0 0 1 0.80 -0.80 Z M685.21 312.75 h5.30 a0.80 0.80 0 0 1 0.80 0.80 v0.70 a0.80 0.80 0 0 1 -0.80 0.80 h-5.30 a0.80 0.80 0 0 1 -0.80 -0.80 v-0.70 a0.80 0.80 0 0 1 0.80 -0.80 Z M701.28 305.25 h5.30 a0.80 0.80 0 0 1 0.80 0.80 v0.70 a0.80 0.80 0 0 1 -0.80 0.80 h-5.30 a0.80 0.80 0 0 1 -0.80 -0.80 v-0.70 a0.80 0.80 0 0 1 0.80 -0.80 Z M701.28 322.95 h5.30 a0.80 0.80 0 0 1 0.80 0.80 v0.70 a0.80 0.80 0 0 1 -0.80 0.80 h-5.30 a0.80 0.80 0 0 1 -0.80 -0.80 v-0.70 a0.80 0.80 0 0 1 0.80 -0.80 Z M701.28 314.05 h5.30 a0.80 0.80 0 0 1 0.80 0.80 v0.70 a0.80 0.80 0 0 1 -0.80 0.80 h-5.30 a0.80 0.80 0 0 1 -0.80 -0.80 v-0.70 a0.80 0.80 0 0 1 0.80 -0.80 Z M717.35 305.65 h5.30 a0.80 0.80 0 0 1 0.80 0.80 v0.70 a0.80 0.80 0 0 1 -0.80 0.80 h-5.30 a0.80 0.80 0 0 1 -0.80 -0.80 v-0.70 a0.80 0.80 0 0 1 0.80 -0.80 Z M717.35 324.95 h5.30 a0.80 0.80 0 0 1 0.80 0.80 v0.70 a0.80 0.80 0 0 1 -0.80 0.80 h-5.30 a0.80 0.80 0 0 1 -0.80 -0.80 v-0.70 a0.80 0.80 0 0 1 0.80 -0.80 Z M717.35 315.35 h5.30 a0.80 0.80 0 0 1 0.80 0.80 v0.70 a0.80 0.80 0 0 1 -0.80 0.80 h-5.30 a0.80 0.80 0 0 1 -0.80 -0.80 v-0.70 a0.80 0.80 0 0 1 0.80 -0.80 Z" fill="#ff0000" stroke="none"/>
<path d="M77.30 50.65 L78.84 50.69 L80.38 50.79 L81.92 50.96 L83.45 51.20 L84.99 51.51 L86.53 51.88 L88.07 52.32 L89.61 52.83 L91.15 53.41 L92.68 54.05 L94.22 54.75 L95.76 55.52 L97.30 56.36 L98.84 57.26 L100.38 58.22 L101.91 59.25 L103.45 60.33 L104.99 61.48 L106.53 62.69 L108.07 63.95 L109.61 65.27 L111.14 66.65 L112.68 68.09 L114.22 69.58 L115.76 71.12 L117.30 72.71 L118.84 74.36 L120.37 76.06 L121.91 77.80 L123.45 79.59 L124.99 81.43 L126.53 83.31 L128.07 85.23 L129.61 87.20 L131.14 89.21 L132.68 91.25 L134.22 93.34 L135.76 95.46 L137.30 97.61 L138.84 99.80 L140.37 102.02 L141.91 104.27 L143.45 106.55 L144.99 108.86 L146.53 111.20 L148.07 113.55 L149.60 115.94 L151.14 118.34 L152.68 120.76 L154.22 123.21 L155.76 125.67 L157.30 128.14 L158.83 130.64 L160.37 133.14 L161.91 135.66 L163.45 138.19 L164.99 140.73 L166.53 143.27 L168.07 145.83 L169.60 148.39 L171.14 150.95 L172.68 153.52 L174.22 156.09 L175.76 158.66 L177.30 161.23 L178.83 163.80 L180.37 166.37 L181.91 168.93 L183.45 171.50 L184.99 174.05 L186.53 176.60 L188.06 179.14 L189.60 181.68 L191.14 184.20 L192.68 186.72 L194.22 189.23 L195.76 191.72 L197.29 194.20 L198.83 196.68 L200.37 199.13 L201.91 201.58 L203.45 204.01 L204.99 206.42 L206.52 208.82 L208.06 211.20 L209.60 213.57 L211.14 215.92 L212.68 218.25 L214.22 220.56 L215.76 222.86 L217.29 225.14 L218.83 227.39 L220.37 229.63 L221.91 231.85 L223.45 234.05 L224.99 236.23 L226.52 238.39 L228.06 240.53 L229.60 242.65 L231.14 244.75 L232.68 246.82 L234.22 248.88 L235.75 250.91 L237.29 252.92 L238.83 254.92 L240.37 256.89 L241.91 258.84 L243.45 260.77 L244.98 262.67 L246.52 264.56 L248.06 266.42 L249.60 268.27 L251.14 270.09 L252.68 271.89 L254.22 273.67 L255.75 275.43 L257.29 277.17 L258.83 278.89 L260.37 280.59 L261.91 282.26 L263.45 283.92 L264.98 285.56 L266.52 287.18 L268.06 288.77 L269.60 290.35 L271.14 291.91 L272.68 293.45 L274.21 294.97 L275.75 296.47 L277.29 297.96 L278.83 299.42 L280.37 300.87 L281.91 302.30 L283.44 303.71 L284.98 305.10 L286.52 306.48 L288.06 307.84 L289.60 309.18 L291.14 310.51 L292.67 311.82 L294.21 313.11 L295.75 314.39 L297.29 315.65 L298.83 316.89 L300.37 318.12 L301.91 319.34 L303.44 320.54 L304.98 321.72 L306.52 322.89 L308.06 324.05 L309.60 325.19 L311.14 326.32 L312.67 327.44 L314.21 328.54 L315.75 329.62 L317.29 330.70 L318.83 331.76 L320.37 332.81 L321.90 333.85 L323.44 334.87 L324.98 335.88 L326.52 336.88 L328.06 337.87 L329.60 338.85 L331.13 339.81 L332.67 340.77 L334.21 341.71 L335.75 342.64 L337.29 343.56 L338.83 344.47 L340.36 345.38 L341.90 346.27 L343.44 347.15 L344.98 348.02 L346.52 348.88 L348.06 349.73 L349.60 350.57 L351.13 351.40 L352.67 352.22 L354.21 353.04 L355.75 353.84 L357.29 354.64 L358.83 355.43 L360.36 356.21 L361.90 356.98 L363.44 357.74 L364.98 358.50 L366.52 359.24 L368.06 359.98 L369.59 360.71 L371.13 361.44 L372.67 362.15 L374.21 362.86 L375.75 363.56 L377.29 364.26 L378.82 364.95 L380.36 365.63 L381.90 366.30 L383.44 366.97 L384.98 367.63 L386.52 368.28 L388.06 368.93 L389.59 369.57 L391.13 370.20 L392.67 370.83 L394.21 371.45 L395.75 372.07 L397.29 372.68 L398.82 373.28 L400.36 373.88 L401.90 374.48 L403.44 375.06 L404.98 375.65 L406.52 376.22 L408.05 376.79 L409.59 377.36 L411.13 377.92 L412.67 378.48 L414.21 379.03 L415.75 379.57 L417.28 380.11 L418.82 380.65 L420.36 381.18 L421.90 381.71 L423.44 382.23 L424.98 382.74 L426.51 383.26 L428.05 383.76 L429.59 384.27 L431.13 384.77 L432.67 385.26 L434.21 385.75 L435.75 386.24 L437.28 386.72 L438.82 387.20 L440.36 387.67 L441.90 388.14 L443.44 388.61 L444.98 389.07 L446.51 389.53 L448.05 389.98 L449.59 390.43 L451.13 390.88 L452.67 391.32 L454.21 391.76 L455.74 392.20 L457.28 392.63 L458.82 393.06 L460.36 393.49 L461.90 393.91 L463.44 394.33 L464.97 394.74 L466.51 395.16 L468.05 395.57 L469.59 395.97 L471.13 396.37 L472.67 396.77 L474.20 397.17 L475.74 397.56 L477.28 397.95 L478.82 398.34 L480.36 398.72 L481.90 399.11 L483.44 399.49 L484.97 399.86 L486.51 400.23 L488.05 400.60 L489.59 400.97 L491.13 401.34 L492.67 401.70 L494.20 402.06 L495.74 402.41 L497.28 402.77 L498.82 403.12 L500.36 403.47 L501.90 403.81 L503.43 404.16 L504.97 404.50 L506.51 404.84 L508.05 405.17 L509.59 405.51 L511.13 405.84 L512.66 406.17 L514.20 406.50 L515.74 406.82 L517.28 407.14 L518.82 407.46 L520.36 407.78 L521.90 408.10 L523.43 408.41 L524.97 408.72 L526.51 409.03 L528.05 409.34 L529.59 409.64 L531.13 409.95 L532.66 410.25 L534.20 410.55 L535.74 410.84 L537.28 411.14 L538.82 411.43 L540.36 411.72 L541.89 412.01 L543.43 412.30 L544.97 412.59 L546.51 412.87 L548.05 413.15 L549.59 413.43 L551.12 413.71 L552.66 413.98 L554.20 414.26 L555.74 414.53 L557.28 414.80 L558.82 415.07 L560.35 415.34 L561.89 415.61 L563.43 415.87 L564.97 416.13 L566.51 416.39 L568.05 416.65 L569.59 416.91 L571.12 417.16 L572.66 417.42 L574.20 417.67 L575.74 417.92 L577.28 418.17 L578.82 418.42 L580.35 418.67 L581.89 418.91 L583.43 419.16 L584.97 419.40 L586.51 419.64 L588.05 419.88 L589.58 420.12 L591.12 420.35 L592.66 420.59 L594.20 420.82 L595.74 421.05 L597.28 421.28 L598.81 421.51 L600.35 421.74 L601.89 421.97 L603.43 422.19 L604.97 422.42 L606.51 422.64 L608.05 422.86 L609.58 423.08 L611.12 423.30 L612.66 423.52 L614.20 423.73 L615.74 423.95 L617.28 424.16 L618.81 424.38 L620.35 424.59 L621.89 424.80 L623.43 425.01 L624.97 425.22 L626.51 425.42 L628.04 425.63 L629.58 425.83 L631.12 426.04 L632.66 426.24 L634.20 426.44 L635.74 426.64 L637.27 426.84 L638.81 427.04 L640.35 427.23 L641.89 427.43 L643.43 427.62 L644.97 427.82 L646.50 428.01 L648.04 428.20 L649.58 428.39 L651.12 428.58 L652.66 428.77 L654.20 428.96 L655.74 429.14 L657.27 429.33 L658.81 429.51 L660.35 429.70 L661.89 429.88 L663.43 430.06 L664.97 430.24 L666.50 430.42 L668.04 430.60 L669.58 430.78 L671.12 430.95 L672.66 431.13 L674.20 431.30 L675.73 431.48 L677.27 431.65 L678.81 431.82 L680.35 432.00 L681.89 432.17 L683.43 432.34 L684.96 432.51 L686.50 432.67 L688.04 432.84 L689.58 433.01 L691.12 433.17" fill="none" stroke="#00ff00" stroke-width="2.00" stroke-dasharray="4.32 2.165"/>
<path d="M690.9 79.9 H735" fill="none" stroke="#00ff00" stroke-width="2.00" stroke-dasharray="4.32 2.165"/>
<path d="M77.30 248.60 H752.50" fill="none" stroke="#0000ff" stroke-width="2.10" stroke-dasharray="2.16 3.245"/>
<path d="M690.9 112.1 H731.3" fill="none" stroke="#0000ff" stroke-width="2.10" stroke-dasharray="2.16 3.245"/>
<text transform="translate(68.00 504.65) scale(0.985 1.040)" text-anchor="end" fill="#000" stroke="#000">0</text>
<text transform="translate(68.00 430.63) scale(0.985 1.040)" text-anchor="end" fill="#000" stroke="#000">0.01</text>
<text transform="translate(68.00 356.60) scale(0.985 1.040)" text-anchor="end" fill="#000" stroke="#000">0.02</text>
<text transform="translate(68.00 282.58) scale(0.985 1.040)" text-anchor="end" fill="#000" stroke="#000">0.03</text>
<text transform="translate(68.00 208.56) scale(0.985 1.040)" text-anchor="end" fill="#000" stroke="#000">0.04</text>
<text transform="translate(68.00 134.53) scale(0.985 1.040)" text-anchor="end" fill="#000" stroke="#000">0.05</text>
<text transform="translate(68.00 60.51) scale(0.985 1.040)" text-anchor="end" fill="#000" stroke="#000">0.06</text>
<text transform="translate(77.30 519.80) scale(0.985 1.040)" text-anchor="middle" fill="#000" stroke="#000">0</text>
<text transform="translate(200.06 519.80) scale(0.985 1.040)" text-anchor="middle" fill="#000" stroke="#000">10</text>
<text transform="translate(322.83 519.80) scale(0.985 1.040)" text-anchor="middle" fill="#000" stroke="#000">20</text>
<text transform="translate(445.59 519.80) scale(0.985 1.040)" text-anchor="middle" fill="#000" stroke="#000">30</text>
<text transform="translate(568.35 519.80) scale(0.985 1.040)" text-anchor="middle" fill="#000" stroke="#000">40</text>
<text transform="translate(691.12 519.80) scale(0.985 1.040)" text-anchor="middle" fill="#000" stroke="#000">50</text>
<text transform="translate(414.90 540.80) scale(1.000 1.000)" text-anchor="middle" fill="#000" stroke="#000">mr</text>
<text transform="translate(682.00 52.80) scale(0.990 1.000)" text-anchor="end" fill="#ff0000" stroke="#ff0000">lattice</text>
<text transform="translate(682.00 84.80) scale(0.990 1.000)" text-anchor="end" fill="#00ff00" stroke="#00ff00">analytical</text>
<text transform="translate(682.00 117.00) scale(0.990 1.000)" text-anchor="end" fill="#0000ff" stroke="#0000ff">mean Higgs</text>
<text transform="translate(16.1 272.4) rotate(-90) scale(0.99 1)" stroke="#000">(mr)</text>
<path fill-rule="evenodd" d="M4.95 278.4 a5.65 5.2 0 1 0 11.3 0 a5.65 5.2 0 1 0 -11.3 0 Z M5.7 278.4 a4.9 3.45 0 1 0 9.8 0 a4.9 3.45 0 1 0 -9.8 0 Z" fill="#000"/>
<path d="M1.2 277.85 H20.9 V278.85 H1.2 Z" fill="#000"/>
</svg>
</body></html>
